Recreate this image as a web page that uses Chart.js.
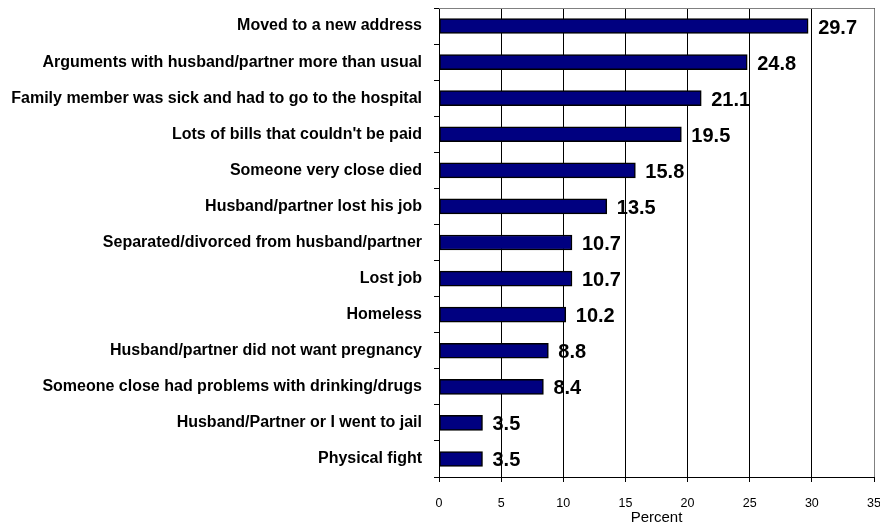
<!DOCTYPE html>
<html>
<head>
<meta charset="utf-8">
<script src="https://cdn.jsdelivr.net/npm/chart.js@4/dist/chart.umd.min.js"></script>
<style>
  html, body { margin: 0; padding: 0; background: #fff; }
  #wrap { width: 880px; height: 527px; position: relative; }
</style>
</head>
<body>
<div id="wrap"><canvas id="chart"></canvas></div>
<script>
// ================== DATA ==================
const categories = [
  "Moved to a new address",
  "Arguments with husband/partner more than usual",
  "Family member was sick and had to go to the hospital",
  "Lots of bills that couldn't be paid",
  "Someone very close died",
  "Husband/partner lost his job",
  "Separated/divorced from husband/partner",
  "Lost job",
  "Homeless",
  "Husband/partner did not want pregnancy",
  "Someone close had problems with drinking/drugs",
  "Husband/Partner or I went to jail",
  "Physical fight"
];
const percents = [29.7, 24.8, 21.1, 19.5, 15.8, 13.5, 10.7, 10.7, 10.2, 8.8, 8.4, 3.5, 3.5];
const xTicks = [0, 5, 10, 15, 20, 25, 30, 35];
const xTitle = "Percent";

const FONT = "'Liberation Sans', Arial, sans-serif";

// ================== PLUGINS ==================
// value labels to the right of each bar
const valueLabels = {
  id: "valueLabels",
  afterDatasetsDraw(chart) {
    const ctx = chart.ctx;
    const meta = chart.getDatasetMeta(0);
    ctx.save();
    ctx.font = "bold 20px " + FONT;
    ctx.fillStyle = "#000";
    ctx.textBaseline = "middle";
    ctx.textAlign = "left";
    meta.data.forEach((bar, i) => {
      ctx.fillText(percents[i].toFixed(1), bar.x + 10, bar.y + 2);
    });
    ctx.restore();
  }
};

// thin frame on top / right of the plot area
const frame = {
  id: "frame",
  beforeDatasetsDraw(chart) {
    const { ctx, chartArea: a } = chart;
    ctx.save();
    ctx.strokeStyle = "#808080";
    ctx.lineWidth = 1;
    ctx.beginPath();
    ctx.moveTo(a.left, a.top + 0.5);
    ctx.lineTo(a.right + 0.5, a.top + 0.5);
    ctx.lineTo(a.right + 0.5, a.bottom);
    ctx.stroke();
    ctx.restore();
  }
};

// ================== CHART ==================
new Chart(document.getElementById("chart"), {
  type: "bar",
  data: {
    labels: categories,
    datasets: [{
      data: percents,
      backgroundColor: "#000080",
      borderColor: "#000",
      borderWidth: 1.5,
      borderSkipped: false,
      barThickness: 15
    }]
  },
  options: {
    indexAxis: "y",
    responsive: true,
    maintainAspectRatio: false,
    animation: false,
    layout: { padding: { top: 8, right: 6, left: 0, bottom: 0 } },
    plugins: {
      legend: { display: false },
      tooltip: { enabled: false }
    },
    scales: {
      x: {
        min: 0, max: 35,
        afterBuildTicks(s) { s.ticks = xTicks.map(v => ({ value: v })); },
        afterFit(s) { s.height = 50; s.paddingLeft = 0; s.paddingRight = 0; },
        grid: {
          color: "#000",
          lineWidth: 1,
          tickLength: 5,
          drawTicks: true
        },
        border: { color: "#000", width: 1 },
        ticks: {
          color: "#000",
          font: { family: FONT, size: 12.5 },
          padding: 14,
          maxRotation: 0
        },
        title: {
          display: true,
          text: xTitle,
          color: "#000",
          font: { family: FONT, size: 15 },
          padding: { top: -6, bottom: 0 }
        }
      },
      y: {
        afterFit(s) { s.width = 439; s.paddingTop = 0; s.paddingBottom = 0; },
        grid: {
          offset: true,
          drawOnChartArea: false,
          color: "#000",
          tickLength: 5
        },
        border: { color: "#000", width: 1 },
        ticks: {
          color: "#000",
          font: { family: FONT, size: 16, weight: "bold" },
          padding: 12,
          autoSkip: false
        }
      }
    }
  },
  plugins: [valueLabels, frame]
});
</script>
</body>
</html>
